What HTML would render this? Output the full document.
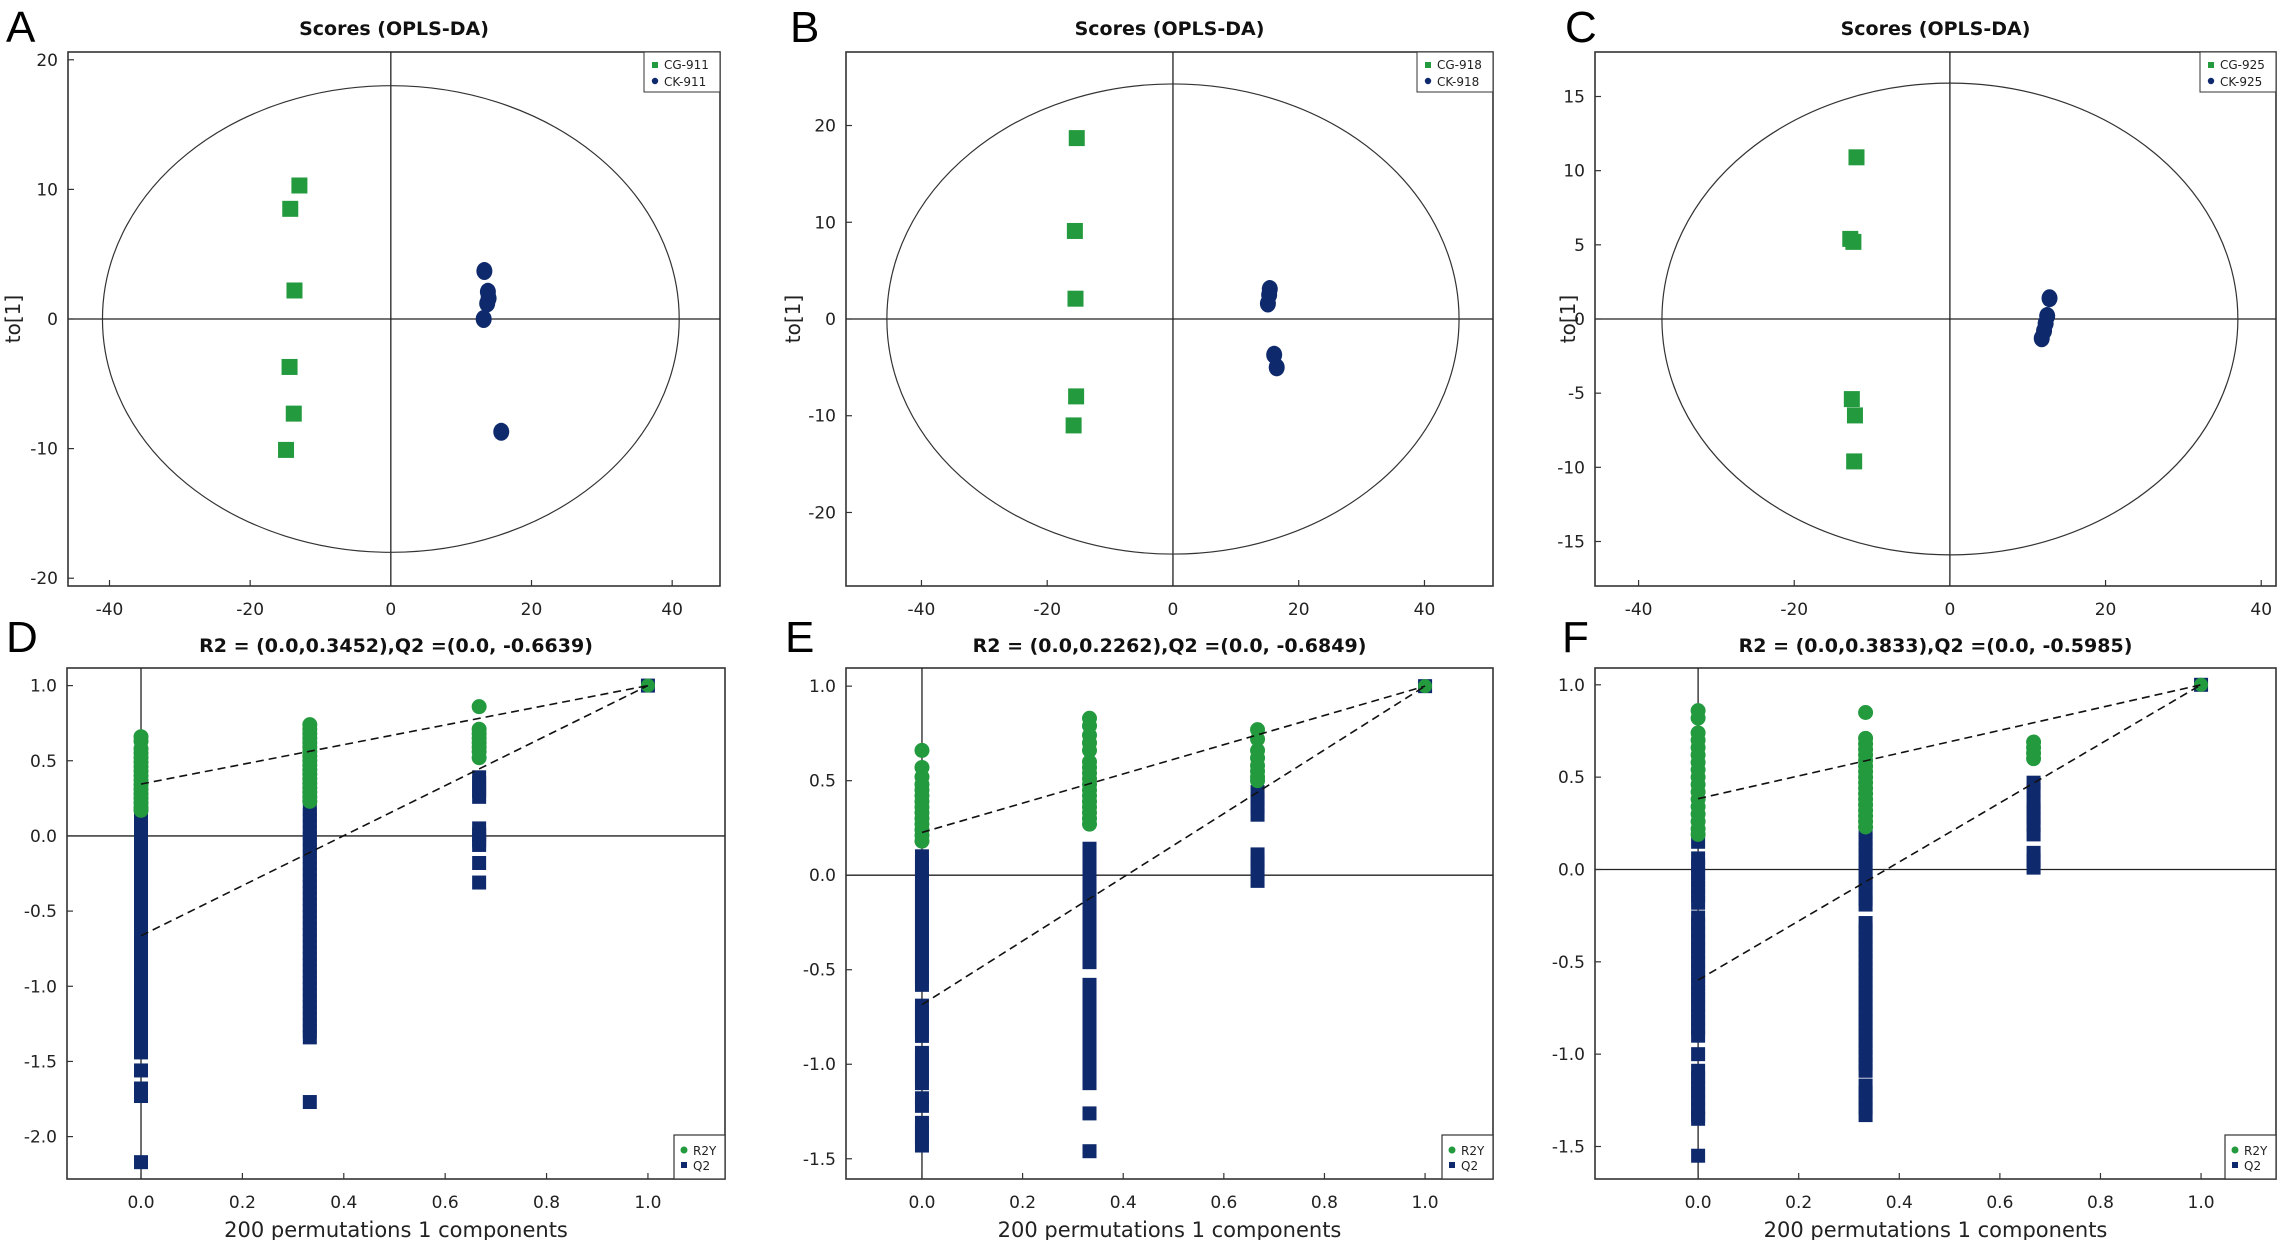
<!DOCTYPE html>
<html><head><meta charset="utf-8">
<style>
html,body{margin:0;padding:0;background:#fff;}
svg{display:block;font-family:"DejaVu Sans","Liberation Sans",sans-serif;}
</style></head>
<body>
<svg id="fig" width="2280" height="1240" viewBox="0 0 2280 1240" xmlns="http://www.w3.org/2000/svg"></svg>
<script>
// ---- Score plot data (A, B, C) ----
const cgA_x = [-13, -14.3, -13.7, -14.4, -13.8, -14.9];
const cgA_y = [10.3, 8.5, 2.2, -3.7, -7.3, -10.1];
const ckA_x = [13.3, 13.8, 13.9, 13.7, 13.2, 15.7];
const ckA_y = [3.7, 2.1, 1.6, 1.2, 0.0, -8.7];
const cgB_x = [-15.3, -15.6, -15.5, -15.4, -15.8];
const cgB_y = [18.7, 9.1, 2.1, -8.0, -11.0];
const ckB_x = [15.4, 15.3, 15.1, 16.1, 16.5];
const ckB_y = [3.1, 2.5, 1.6, -3.7, -5.0];
const cgC_x = [-12.0, -12.8, -12.4, -12.6, -12.2, -12.3];
const cgC_y = [10.9, 5.4, 5.2, -5.4, -6.5, -9.6];
const ckC_x = [12.8, 12.5, 12.3, 12.1, 11.8];
const ckC_y = [1.4, 0.2, -0.3, -0.8, -1.3];
const ellipseA = [41, 18];
const ellipseB = [45.5, 24.3];
const ellipseC = [37, 15.9];
const ticksAx = [-40, -20, 0, 20, 40], ticksAy = [20, 10, 0, -10, -20];
const ticksBx = [-40, -20, 0, 20, 40], ticksBy = [20, 10, 0, -10, -20];
const ticksCx = [-40, -20, 0, 20, 40], ticksCy = [15, 10, 5, 0, -5, -10, -15];
const legendA = ["CG-911", "CK-911"], legendB = ["CG-918", "CK-918"], legendC = ["CG-925", "CK-925"];

// ---- Permutation plot data (D, E, F) ----
const permX = [0, 0.333, 0.667, 1.0];
const permTicksX = [0.0, 0.2, 0.4, 0.6, 0.8, 1.0];
const intD = [0.3452, -0.6639], intE = [0.2262, -0.6849], intF = [0.3833, -0.5985];
const d_r2_0 = [0.66,0.63,0.58,0.55,0.52,0.49,0.46,0.43,0.40,0.37,0.34,0.31,0.28,0.25,0.22,0.19,0.17];
const d_q2_0 = [0.15,0.11,0.04,0.0,-0.04,-0.08,-0.12,-0.16,-0.2,-0.24,-0.28,-0.32,-0.36,-0.4,-0.44,-0.48,-0.52,-0.56,-0.6,-0.69,-0.73,-0.77,-0.81,-0.89,-0.92,-1.0,-1.04,-1.08,-1.12,-1.16,-1.2,-1.24,-1.28,-1.32,-1.36,-1.4,-1.44,-1.56,-1.68,-1.73,-2.17];
const d_r2_1 = [0.74,0.71,0.68,0.65,0.62,0.59,0.56,0.53,0.5,0.47,0.44,0.41,0.38,0.35,0.32,0.29,0.26,0.23];
const d_q2_1 = [0.18,0.14,0.1,0.06,0.02,-0.02,-0.06,-0.1,-0.14,-0.18,-0.22,-0.26,-0.3,-0.34,-0.38,-0.42,-0.46,-0.5,-0.54,-0.58,-0.62,-0.66,-0.7,-0.74,-0.78,-0.82,-0.86,-0.9,-0.94,-0.98,-1.02,-1.06,-1.1,-1.14,-1.18,-1.22,-1.26,-1.3,-1.34,-1.77];
const d_r2_2 = [0.86,0.71,0.68,0.65,0.62,0.59,0.56,0.52];
const d_q2_2 = [0.39,0.35,0.3,0.26,0.05,0.01,-0.03,-0.06,-0.18,-0.31];
const e_r2_0 = [0.66,0.57,0.52,0.48,0.45,0.42,0.39,0.36,0.33,0.3,0.27,0.24,0.21,0.18];
const e_q2_0 = [0.1,0.06,0.02,-0.02,-0.06,-0.1,-0.14,-0.18,-0.22,-0.26,-0.3,-0.34,-0.38,-0.42,-0.46,-0.5,-0.54,-0.58,-0.69,-0.73,-0.77,-0.81,-0.85,-0.94,-0.98,-1.02,-1.06,-1.1,-1.18,-1.22,-1.31,-1.35,-1.39,-1.43];
const e_r2_1 = [0.83,0.79,0.74,0.7,0.66,0.6,0.57,0.54,0.51,0.48,0.45,0.42,0.39,0.36,0.33,0.3,0.27];
const e_q2_1 = [0.14,0.1,0.06,0.02,-0.02,-0.06,-0.1,-0.14,-0.18,-0.22,-0.26,-0.3,-0.34,-0.38,-0.42,-0.46,-0.58,-0.62,-0.66,-0.7,-0.74,-0.78,-0.82,-0.86,-0.9,-0.94,-0.98,-1.02,-1.06,-1.1,-1.26,-1.46];
const e_r2_2 = [0.77,0.72,0.66,0.62,0.58,0.55,0.52,0.5];
const e_q2_2 = [0.44,0.4,0.36,0.32,0.11,0.07,0.03,-0.03];
const f_r2_0 = [0.86,0.82,0.74,0.7,0.66,0.62,0.58,0.54,0.5,0.46,0.42,0.38,0.34,0.3,0.26,0.22,0.19];
const f_q2_0 = [0.15,0.06,0.02,-0.02,-0.06,-0.1,-0.14,-0.18,-0.26,-0.3,-0.34,-0.38,-0.42,-0.46,-0.5,-0.54,-0.58,-0.62,-0.66,-0.7,-0.74,-0.78,-0.82,-0.86,-0.9,-1.0,-1.09,-1.13,-1.17,-1.21,-1.25,-1.29,-1.33,-1.35,-1.55];
const f_r2_1 = [0.85,0.71,0.68,0.65,0.62,0.59,0.56,0.53,0.5,0.47,0.44,0.41,0.38,0.35,0.32,0.29,0.26,0.23];
const f_q2_1 = [0.2,0.16,0.12,0.08,0.04,0.0,-0.04,-0.08,-0.12,-0.16,-0.19,-0.29,-0.33,-0.37,-0.41,-0.45,-0.49,-0.53,-0.57,-0.61,-0.65,-0.69,-0.73,-0.77,-0.81,-0.85,-0.89,-0.93,-0.97,-1.01,-1.05,-1.09,-1.17,-1.21,-1.25,-1.29,-1.33];
const f_r2_2 = [0.69,0.66,0.63,0.6];
const f_q2_2 = [0.47,0.43,0.36,0.32,0.28,0.24,0.19,0.09,0.05,0.01];
const permTicksD = [1.0, 0.5, 0.0, -0.5, -1.0, -1.5, -2.0];
const permTicksE = [1.0, 0.5, 0.0, -0.5, -1.0, -1.5];
const permTicksF = [1.0, 0.5, 0.0, -0.5, -1.0, -1.5];

const GREEN = "#239a3e", NAVY = "#0f2a6c";
const svg = document.getElementById("fig");
const NS = "http://www.w3.org/2000/svg";
function mk(tag, attrs, parent, text) {
  const e = document.createElementNS(NS, tag);
  for (const k in attrs) e.setAttribute(k, attrs[k]);
  if (text !== undefined) e.textContent = text;
  (parent || svg).appendChild(e);
  return e;
}
function fmt(v, perm) { return perm ? v.toFixed(1) : String(v); }

function makePanel(cfg) {
  const g = mk("g", {});
  
  
  const [x0, y0, x1, y1] = cfg.box;
  const sx = v => x0 + (v - cfg.xd[0]) / (cfg.xd[1] - cfg.xd[0]) * (x1 - x0);
  const sy = v => y1 - (v - cfg.yd[0]) / (cfg.yd[1] - cfg.yd[0]) * (y1 - y0);
  cfg.sx = sx; cfg.sy = sy; cfg.g = g;
  const frame = mk("rect", {x: x0, y: y0, width: x1 - x0, height: y1 - y0, fill: "none", stroke: "#333", "stroke-width": 1.6}, g);
  
  
  const vl = mk("line", {x1: sx(0), x2: sx(0), y1: y0, y2: y1, stroke: "#222", "stroke-width": 1.3}, g);
  
  
  const hl = mk("line", {x1: x0, x2: x1, y1: sy(0), y2: sy(0), stroke: "#222", "stroke-width": 1.3}, g);
  
  
  cfg.xt.forEach(t => {
    mk("line", {x1: sx(t), x2: sx(t), y1: y1, y2: y1 - 6, stroke: "#333", "stroke-width": 1.2}, g);
    const tl = mk("text", {x: sx(t), y: y1 + 29, "text-anchor": "middle", "font-size": 17, fill: "#222"}, g, fmt(t, cfg.perm));
    
    
  });
  cfg.yt.forEach(t => {
    mk("line", {x1: x0, x2: x0 + 6, y1: sy(t), y2: sy(t), stroke: "#333", "stroke-width": 1.2}, g);
    const tl = mk("text", {x: x0 - 10, y: sy(t) + 6, "text-anchor": "end", "font-size": 17, fill: "#222"}, g, fmt(t, cfg.perm));
    
    
  });
  const title = mk("text", {x: (x0 + x1) / 2, y: cfg.titleY, "text-anchor": "middle", "font-size": 19, "font-weight": "bold", fill: "#111"}, g, cfg.title);
  
  
  const letter = mk("text", {x: cfg.letterX, y: cfg.letterY, "font-size": 44, "font-family": "Liberation Sans Narrow, Liberation Sans, sans-serif", fill: "#000"}, g, cfg.letter);
  
  
  return g;
}

function scorePanel(cfg, cgx, cgy, ckx, cky, ell, leg) {
  cfg.perm = false;
  const g = makePanel(cfg);
  const sx = cfg.sx, sy = cfg.sy;
  const el = mk("ellipse", {cx: sx(0), cy: sy(0), rx: sx(ell[0]) - sx(0), ry: sy(0) - sy(ell[1]), fill: "none", stroke: "#333", "stroke-width": 1.2}, g);
  
  
  cgx.forEach((v, i) => {
    const r = mk("rect", {x: sx(v) - 8, y: sy(cgy[i]) - 8, width: 16, height: 16, fill: GREEN}, g);
    
    
  });
  ckx.forEach((v, i) => {
    const c = mk("ellipse", {cx: sx(v), cy: sy(cky[i]), rx: 8, ry: 9, fill: NAVY}, g);
    
    
  });
  const [x0, y0, x1] = cfg.box;
  const lg = mk("g", {}, g);
  
  
  mk("rect", {x: x1 - 76, y: y0, width: 76, height: 40, fill: "#fff", stroke: "#333", "stroke-width": 1}, lg);
  mk("rect", {x: x1 - 68, y: y0 + 10, width: 6, height: 6, fill: GREEN}, lg);
  const l1 = mk("text", {x: x1 - 56, y: y0 + 17, "font-size": 12, fill: "#222"}, lg, leg[0]);
  
  
  mk("circle", {cx: x1 - 65, cy: y0 + 29, r: 3.2, fill: NAVY}, lg);
  const l2 = mk("text", {x: x1 - 56, y: y0 + 34, "font-size": 12, fill: "#222"}, lg, leg[1]);
  
  
  const yl = mk("text", {x: cfg.ylabX, y: sy(0), "text-anchor": "middle", "font-size": 20, fill: "#222", transform: "rotate(-90 " + cfg.ylabX + " " + sy(0) + ")"}, g, "to[1]");
  
  
}

function permPanel(cfg, r2cols, q2cols, ints) {
  cfg.perm = true;
  const g = makePanel(cfg);
  const sx = cfg.sx, sy = cfg.sy;
  for (let k = 0; k < 3; k++) {
    q2cols[k].forEach(v => {
      const r = mk("rect", {x: sx(permX[k]) - 7, y: sy(v) - 7, width: 14, height: 14, fill: NAVY}, g);
      
      
    });
    r2cols[k].forEach(v => {
      const c = mk("circle", {cx: sx(permX[k]), cy: sy(v), r: 7.5, fill: GREEN}, g);
      
      
    });
  }
  const fq = mk("rect", {x: sx(permX[3]) - 7, y: sy(1) - 7, width: 14, height: 14, fill: NAVY}, g);
  
  
  const fr = mk("circle", {cx: sx(permX[3]), cy: sy(1), r: 7, fill: GREEN}, g);
  
  
  ints.forEach((v, i) => {
    const l = mk("line", {x1: sx(0), y1: sy(v), x2: sx(permX[3]), y2: sy(1), stroke: "#111", "stroke-width": 1.6, "stroke-dasharray": "8,5"}, g);
    
    
  });
  const [x0, y0, x1, y1] = cfg.box;
  const lg = mk("g", {}, g);
  
  
  mk("rect", {x: x1 - 51, y: y1 - 44, width: 51, height: 44, fill: "#fff", stroke: "#333", "stroke-width": 1.2}, lg);
  mk("circle", {cx: x1 - 41, cy: y1 - 29, r: 3.5, fill: GREEN}, lg);
  const l1 = mk("text", {x: x1 - 32, y: y1 - 24, "font-size": 12, fill: "#222"}, lg, "R2Y");
  
  
  mk("rect", {x: x1 - 44, y: y1 - 17, width: 6, height: 6, fill: NAVY}, lg);
  const l2 = mk("text", {x: x1 - 32, y: y1 - 9, "font-size": 12, fill: "#222"}, lg, "Q2");
  
  
  const xl = mk("text", {x: (x0 + x1) / 2, y: 1237, "text-anchor": "middle", "font-size": 21, fill: "#222"}, g, "200 permutations 1 components");
  
  
}

scorePanel({name: "panel-a", box: [68, 52, 720, 586], xd: [-45.9, 46.8], yd: [-20.6, 20.6], xt: ticksAx, yt: ticksAy, title: "Scores (OPLS-DA)", titleY: 35, letter: "A", letterX: 6, letterY: 42, ylabX: 20}, cgA_x, cgA_y, ckA_x, ckA_y, ellipseA, legendA);
scorePanel({name: "panel-b", box: [846, 52, 1493, 586], xd: [-52, 50.9], yd: [-27.6, 27.6], xt: ticksBx, yt: ticksBy, title: "Scores (OPLS-DA)", titleY: 35, letter: "B", letterX: 790, letterY: 42, ylabX: 800}, cgB_x, cgB_y, ckB_x, ckB_y, ellipseB, legendB);
scorePanel({name: "panel-c", box: [1595, 52, 2276, 586], xd: [-45.6, 41.9], yd: [-18.0, 18.0], xt: ticksCx, yt: ticksCy, title: "Scores (OPLS-DA)", titleY: 35, letter: "C", letterX: 1565, letterY: 42, ylabX: 1575}, cgC_x, cgC_y, ckC_x, ckC_y, ellipseC, legendC);

permPanel({name: "panel-d", box: [67, 668, 725, 1179], xd: [-0.146, 1.152], yd: [-2.282, 1.117], xt: permTicksX, yt: permTicksD, title: "R2 = (0.0,0.3452),Q2 =(0.0, -0.6639)", titleY: 652, letter: "D", letterX: 6, letterY: 652}, [d_r2_0, d_r2_1, d_r2_2], [d_q2_0, d_q2_1, d_q2_2], intD);
permPanel({name: "panel-e", box: [846, 668, 1493, 1179], xd: [-0.151, 1.135], yd: [-1.607, 1.096], xt: permTicksX, yt: permTicksE, title: "R2 = (0.0,0.2262),Q2 =(0.0, -0.6849)", titleY: 652, letter: "E", letterX: 785, letterY: 652}, [e_r2_0, e_r2_1, e_r2_2], [e_q2_0, e_q2_1, e_q2_2], intE);
permPanel({name: "panel-f", box: [1595, 668, 2276, 1179], xd: [-0.205, 1.149], yd: [-1.676, 1.091], xt: permTicksX, yt: permTicksF, title: "R2 = (0.0,0.3833),Q2 =(0.0, -0.5985)", titleY: 652, letter: "F", letterX: 1562, letterY: 652}, [f_r2_0, f_r2_1, f_r2_2], [f_q2_0, f_q2_1, f_q2_2], intF);
</script>
</body></html>
